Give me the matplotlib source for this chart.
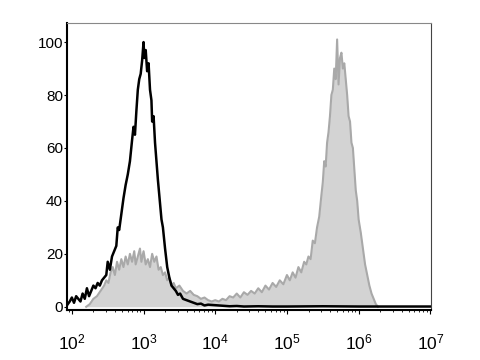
import numpy as np
import matplotlib
matplotlib.use("Agg")
import matplotlib.pyplot as plt

plt.rcParams['font.family'] = ['Liberation Sans', 'DejaVu Sans']
plt.rcParams['mathtext.fontset'] = 'custom'
plt.rcParams['mathtext.rm'] = 'Liberation Sans'
plt.rcParams['mathtext.it'] = 'Liberation Sans'

# control (black) histogram: log10 position, % of max
ctrl_log = [1.93, 1.97, 2.00, 2.03, 2.06, 2.09, 2.12, 2.15, 2.18, 2.21, 2.24, 2.27, 2.30,
            2.33, 2.36, 2.39, 2.42, 2.45, 2.48, 2.50, 2.53, 2.56, 2.59, 2.62, 2.64, 2.66,
            2.69, 2.72, 2.75, 2.78, 2.81, 2.84, 2.86, 2.88, 2.90, 2.92, 2.94, 2.96, 2.98,
            3.00, 3.01, 3.03, 3.05, 3.07, 3.09, 3.11, 3.12, 3.14, 3.16, 3.18, 3.20, 3.22,
            3.25, 3.27, 3.30, 3.33, 3.36, 3.39, 3.42, 3.45, 3.48, 3.51, 3.55, 3.60, 3.65,
            3.70, 3.75, 3.80, 3.85, 3.90, 4.00, 4.10, 4.20, 4.30, 4.40, 4.60, 4.80, 5.00,
            5.50, 6.00, 6.50, 7.00]
ctrl_val = [0.5, 2, 3.5, 1.5, 4, 3, 2, 5, 3, 7, 4, 6, 8,
            7, 9, 8, 10, 11, 12, 17, 14, 19, 21, 23, 30, 29,
            35, 41, 46, 50, 55, 63, 68, 65, 74, 82, 86, 88, 93,
            100, 94, 97, 89, 92, 82, 78, 70, 72, 62, 55, 48, 42,
            33, 30, 22, 15, 11, 8, 7, 6, 4.5, 5, 3, 2.5, 2,
            1.5, 1, 1.2, 0.5, 0.8, 0.6, 0.4, 0.2, 0.3, 0.1, 0.2, 0.1, 0.1,
            0.2, 0.1, 0.1, 0.1]

# stained (grey) histogram
stain_log = [2.20, 2.25, 2.30, 2.35, 2.40, 2.45, 2.48, 2.51, 2.54, 2.57, 2.60, 2.63, 2.66,
             2.69, 2.72, 2.75, 2.78, 2.81, 2.84, 2.87, 2.89, 2.92, 2.95, 2.97, 3.00, 3.03,
             3.06, 3.09, 3.12, 3.15, 3.18, 3.21, 3.24, 3.27, 3.30, 3.33, 3.36, 3.39, 3.42,
             3.45, 3.50, 3.55, 3.60, 3.65, 3.70, 3.75, 3.80, 3.85, 3.90, 3.95, 4.00, 4.05,
             4.10, 4.15, 4.20, 4.25, 4.30, 4.35, 4.40, 4.45, 4.50, 4.55, 4.60, 4.65, 4.70,
             4.75, 4.80, 4.85, 4.90, 4.95, 5.00, 5.04, 5.08, 5.12, 5.16, 5.20, 5.24, 5.27,
             5.30, 5.33, 5.36, 5.39, 5.42, 5.45, 5.48, 5.50, 5.52, 5.54, 5.56, 5.58, 5.60,
             5.62, 5.64, 5.66, 5.68, 5.70, 5.72, 5.74, 5.76, 5.78, 5.80, 5.82, 5.84, 5.86,
             5.88, 5.90, 5.92, 5.94, 5.96, 5.98, 6.00, 6.03, 6.06, 6.09, 6.12, 6.15, 6.18,
             6.21, 6.24, 6.27]
stain_val = [0, 1, 3, 4, 6, 8, 10, 9, 13, 15, 12, 17, 14,
             18, 15, 19, 16, 20, 17, 21, 16, 19, 22, 17, 21, 16,
             18, 15, 20, 17, 19, 14, 15, 12, 13, 10, 11, 8, 9,
             7, 8, 6, 5, 6, 4.5, 4, 3, 3.5, 2.5, 2, 2.5, 2,
             3, 2.5, 4, 3.5, 5, 3.5, 5.5, 4.5, 6, 5, 7, 5.5, 8,
             6.5, 9, 7.5, 10, 8.5, 12, 10, 13, 11, 15, 13, 17, 16,
             19, 18, 25, 24, 30, 34, 42, 47, 55, 53, 62, 66, 72,
             80, 82, 90, 86, 101, 84, 94, 96, 90, 92, 86, 80, 72,
             70, 62, 60, 52, 44, 40, 33, 28, 22, 16, 12, 8, 5,
             3, 1, 0]

yticks = [0, 20, 40, 60, 80, 100]
xticks_exp = [2, 3, 4, 5, 6, 7]

ctrl_x = 10 ** np.array(ctrl_log)
stain_x = 10 ** np.array(stain_log)

fig = plt.figure(figsize=(4.8, 3.6), dpi=100)
ax = fig.add_axes([0.14, 0.139, 0.758, 0.797])

ax.fill_between(stain_x, stain_val, 0, color="#d3d3d3", lw=0)
ax.plot(stain_x, stain_val, color="#a9a9a9", lw=1.5)
ax.plot(ctrl_x, ctrl_val, color="black", lw=1.8)

ax.set_xscale("log")
ax.set_xlim(10 ** 1.935, 10 ** 7.01)
ax.set_ylim(-1.2, 107.2)

ax.set_yticks(yticks)
ax.set_yticklabels([str(v) for v in yticks], fontsize=11)
ax.set_xticks([10.0 ** e for e in xticks_exp])
ax.set_xticklabels([r"$10^{%d}$" % e for e in xticks_exp], fontsize=12.5)

ax.tick_params(axis="y", length=2, pad=1, width=0.8)
ax.tick_params(axis="x", which="major", length=3, pad=13, width=0.8)
ax.tick_params(axis="x", which="minor", length=1.5, width=0.6)

for s in ["left", "bottom"]:
    ax.spines[s].set_linewidth(1.5)
    ax.spines[s].set_color("black")
ax.spines["top"].set_linewidth(0.8)
ax.spines["top"].set_color("#888888")
ax.spines["right"].set_linewidth(0.8)
ax.spines["right"].set_color("#444444")

fig.savefig("out.png", dpi=100)
